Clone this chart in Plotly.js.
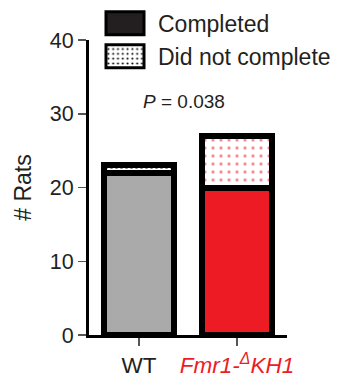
<!DOCTYPE html>
<html>
<head>
<meta charset="utf-8">
<script src="https://cdn.plot.ly/plotly-3.0.1.min.js"></script>
<style>html,body{margin:0;padding:0;background:#fff;}#chart{width:343px;height:381px;}</style>
</head>
<body>
<div id="chart"></div>
<script>
var genotypes = ['WT', 'KH1'];
var tickLabels = ['WT', '<span style="color:#ed1c24"><i>Fmr1-<sup>Δ</sup>KH1</i></span>'];
var completed = [22, 20];
var didNotComplete = [1, 7];
var barColors = ['#aaaaaa', '#ed1c24'];
var dotColors = ['#000000', '#ed1c24'];
var seriesNames = ['Completed', 'Did not complete'];
var pText = '<i>P</i> = 0.038';

var FONT = 'Arial, "Liberation Sans", sans-serif';
var lineSpec = {color: '#000000', width: 6};

var traces = [
  {
    type: 'bar', x: genotypes, y: completed, width: 0.71,
    marker: {color: barColors, line: lineSpec},
    showlegend: false, hoverinfo: 'skip'
  },
  {
    type: 'bar', x: genotypes, y: didNotComplete, width: 0.71,
    marker: {
      color: '#ffffff', line: lineSpec,
      pattern: {shape: '.', fgcolor: dotColors, bgcolor: '#ffffff', size: [5, 8], solidity: [0.3, 0.13], fillmode: 'overlay'}
    },
    showlegend: false, hoverinfo: 'skip'
  },
  {
    type: 'bar', x: [null], y: [null], name: seriesNames[0],
    marker: {color: '#231f20', line: {color: '#000000', width: 3}}
  },
  {
    type: 'bar', x: [null], y: [null], name: seriesNames[1],
    marker: {color: '#ffffff', line: {color: '#000000', width: 3},
      pattern: {shape: '.', fgcolor: '#000000', bgcolor: '#ffffff', size: 6, solidity: 0.15}}
  }
];

var layout = {
  width: 343, height: 381,
  margin: {l: 89, r: 56, t: 40, b: 46, autoexpand: false},
  paper_bgcolor: '#ffffff', plot_bgcolor: '#ffffff',
  barmode: 'stack',
  font: {family: FONT, color: '#231f20', size: 21},
  showlegend: true,
  legend: {
    x: (102 - 89) / 198, xref: 'paper', xanchor: 'left',
    y: 0.995, yref: 'container', yanchor: 'top',
    itemwidth: 46,
    traceorder: 'normal', font: {family: FONT, size: 23, color: '#231f20'},
    bgcolor: 'rgba(0,0,0,0)', itemclick: false
  },
  xaxis: {
    type: 'category', range: [-0.51, 1.51],
    tickvals: genotypes, ticktext: tickLabels,
    showline: true, linecolor: '#000000', linewidth: 3,
    ticks: 'outside', ticklen: 8, tickwidth: 1.5, tickcolor: '#555555',
    tickfont: {family: FONT, size: 22.5, color: '#231f20'},
    showgrid: false, zeroline: false, fixedrange: true
  },
  yaxis: {
    range: [0, 40], tickvals: [0, 10, 20, 30, 40],
    showline: true, linecolor: '#000000', linewidth: 3,
    ticks: 'outside', ticklen: 8, tickwidth: 1.5, tickcolor: '#555555',
    tickfont: {family: FONT, size: 21.5, color: '#231f20'},
    title: {text: '# Rats', font: {family: FONT, size: 23, color: '#231f20'}, standoff: 12},
    showgrid: false, zeroline: false, fixedrange: true
  },
  annotations: [{
    text: pText, xref: 'x', yref: 'y', x: 0.46, y: 31.6,
    showarrow: false, font: {family: FONT, size: 19, color: '#231f20'}
  }]
};

Plotly.newPlot('chart', traces, layout, {staticPlot: true, displayModeBar: false}).then(function (gd) {
  // enlarge the legend swatches to the reference's box size (38 x 23 px, centred at x = 125)
  var paths = gd.querySelectorAll('.legend .legendpoints path');
  paths.forEach(function (p) {
    var r = p.getBoundingClientRect();
    var cx = r.left + r.width / 2;
    var dx = 125 - cx;
    var hw = 19, hh = 11.5;
    p.setAttribute('d', 'M' + (dx + hw) + ',' + hh + 'H' + (dx - hw) + 'V' + (-hh) + 'H' + (dx + hw) + 'Z');
  });
});
</script>
</body>
</html>
